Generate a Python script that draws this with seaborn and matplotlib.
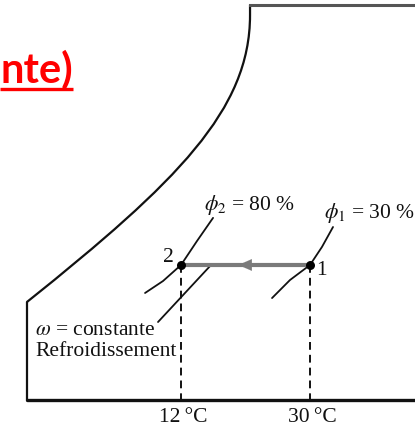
import matplotlib
matplotlib.use("Agg")
import matplotlib.pyplot as plt
from matplotlib.path import Path
from matplotlib.patches import PathPatch
import numpy as np
import pandas as pd
import seaborn as sns

# Schematic psychrometric chart: dry-bulb temperature (°C) vs humidity ratio (diagram units)
# Saturation curve as a cubic Bezier (start, two control points, end), then a short
# vertical run up to the top edge
sat_ctrl_T = [-9.49, 11.44, 21.63, 21.63]
sat_ctrl_W = [5.81, 12.92, 17.19, 22.81]
sat_top_W = 23.41

# Relative-humidity lines through the two states
phi2_T = [6.98, 9.49, 12.0, 14.23, 16.47]
phi2_W = [6.34, 7.05, 8.0, 9.42, 10.79]
phi1_T = [24.70, 27.21, 30.0, 31.67, 33.21]
phi1_W = [6.04, 7.11, 8.0, 9.07, 10.25]

# States: 1 = inlet (30 °C, phi = 30 %), 2 = outlet (12 °C, phi = 80 %)
state_labels = ["1", "2"]
state_T = [30.0, 12.0]
state_W = [8.0, 8.0]
state_phi = [30, 80]

# Chart frame
frame_left_T = -9.49
frame_right_T = 46.0

# Leader line from the process annotation to the cooling line
leader_T = [8.79, 16.19]
leader_W = [4.62, 8.0]

tick_T = [12, 30]
tick_labels = ["12\u2009°C", "30\u2009°C"]

sns.set_theme(style="white")
plt.rcParams["font.family"] = ["Liberation Serif", "DejaVu Serif"]
plt.rcParams["mathtext.fontset"] = "stix"

fig = plt.figure(figsize=(4.15, 4.26), dpi=100)
ax = fig.add_axes([0, 0, 1, 1])
ax.set_xlim(-13.26, 44.65)
ax.set_ylim(-1.541, 23.70)
ax.set_axis_off()

ink = "#111111"


def curve(T, W, **kw):
    sns.lineplot(x=T, y=W, sort=False, estimator=None, ax=ax, **kw)


# Saturation curve
verts = list(zip(sat_ctrl_T, sat_ctrl_W)) + [(sat_ctrl_T[-1], sat_top_W)]
codes = [Path.MOVETO, Path.CURVE4, Path.CURVE4, Path.CURVE4, Path.LINETO]
ax.add_patch(PathPatch(Path(verts, codes), facecolor="none", edgecolor=ink,
                       lw=1.6, transform=ax.transData))

# Outline of the chart
ax.plot([frame_left_T, frame_left_T], [sat_ctrl_W[0], 0], color=ink, lw=1.6)
ax.plot([frame_left_T, frame_right_T], [0, 0], color=ink, lw=2.4)
ax.plot([sat_ctrl_T[-1], frame_right_T], [sat_top_W, sat_top_W],
        color="#555555", lw=2.2, solid_capstyle="projecting")

# Constant relative humidity lines
curve(phi2_T, phi2_W, color=ink, lw=1.3)
curve(phi1_T, phi1_W, color=ink, lw=1.3)

# Leader line
curve(leader_T, leader_W, color=ink, lw=1.3)

# Dashed drops to the temperature axis
for T, W in zip(state_T, state_W):
    ax.plot([T, T], [W, 0], color=ink, lw=1.4, ls=(0, (4, 2.6)), zorder=2)

# Cooling process line 1 -> 2 with arrowhead midway
ax.plot([state_T[0], state_T[1]], [state_W[0], state_W[1]], color="#7a7a7a",
        lw=3.0, solid_capstyle="butt", zorder=3)
mid_T = 20.0
ax.annotate("", xy=(mid_T, state_W[0]), xytext=(mid_T + 2.0, state_W[0]),
            arrowprops=dict(arrowstyle="-|>,head_length=0.8,head_width=0.35",
                            color="#7a7a7a", lw=0.1, shrinkA=0, shrinkB=0),
            zorder=4)

states = pd.DataFrame({"T": state_T, "W": state_W, "label": state_labels})
sns.scatterplot(data=states, x="T", y="W", color="black", s=42, linewidth=0,
                zorder=5, ax=ax, legend=False)

fs = 15.5
ax.text(state_T[1] - 1.8, state_W[1] + 0.42, state_labels[1], fontsize=fs,
        ha="center", va="center", color=ink)
ax.text(state_T[0] + 1.67, state_W[0] - 0.30, state_labels[0], fontsize=fs,
        ha="center", va="center", color=ink)

ax.text(15.21, 11.26, r"$\phi_2$" + f" = {state_phi[1]} %", fontsize=fs,
        ha="left", va="baseline", color=ink)
ax.text(31.95, 10.79, r"$\phi_1$" + f" = {state_phi[0]} %", fontsize=fs,
        ha="left", va="baseline", color=ink)

ax.text(-8.37, 3.85, r"$\omega$ = constante", fontsize=fs, ha="left",
        va="baseline", color=ink)
ax.text(-8.37, 2.61, "Refroidissement", fontsize=fs, ha="left",
        va="baseline", color=ink)

for T, lab in zip(tick_T, tick_labels):
    ax.text(T + 0.3, -1.28, lab, fontsize=fs, ha="center", va="baseline",
            color=ink)

# Heading fragment at upper left
red = "#ff0000"
ax.text(73 / 415, 1 - 82 / 426, "nte)", transform=ax.transAxes, fontsize=30,
        fontweight="bold", family="Lato", color=red, ha="right", va="baseline")
ax.plot([0, 73 / 415], [1 - 88.5 / 426] * 2, transform=ax.transAxes, color=red,
        lw=2.4, solid_capstyle="butt")

fig.savefig("out.png", dpi=100)
